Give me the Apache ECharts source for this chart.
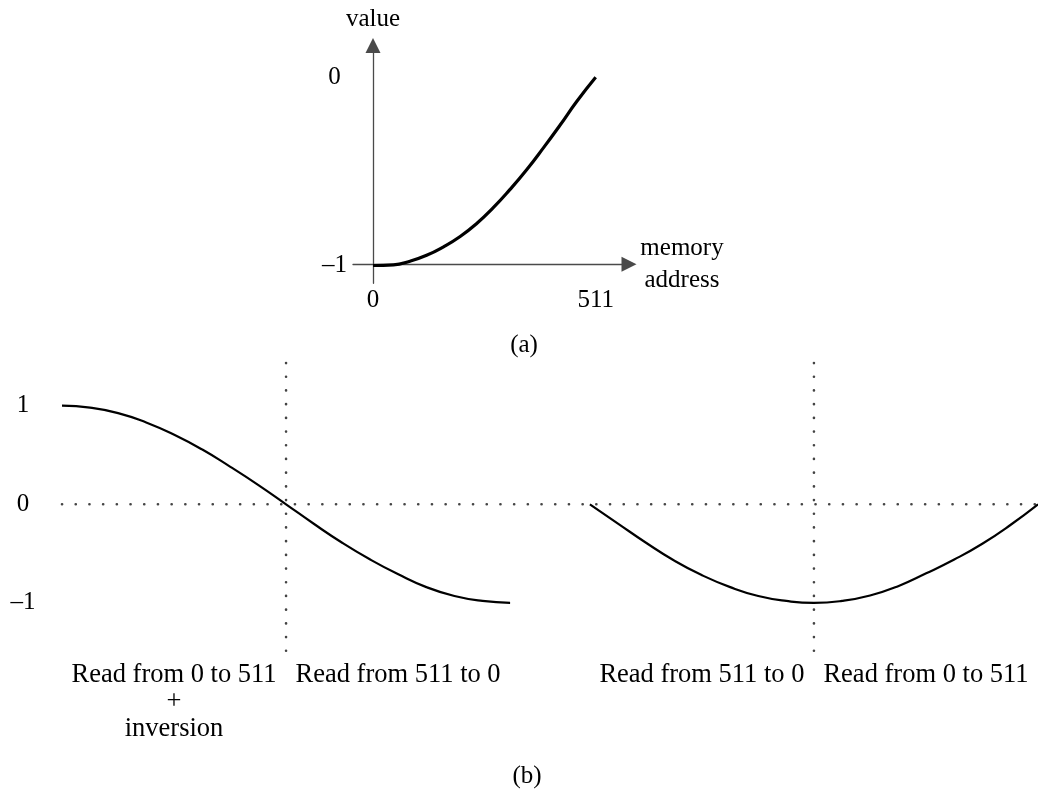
<!DOCTYPE html>
<html>
<head>
<meta charset="utf-8">
<script src="https://cdn.jsdelivr.net/npm/echarts@6/dist/echarts.min.js"></script>
<style>
html,body{margin:0;padding:0;background:#fff;}
#chart{width:1038px;height:794px;}
</style>
</head>
<body>
<div id="chart"></div>
<script>
// ---- (a) memory content: address vs value ----
const topAddr  = [0, 47, 85, 123, 161, 200, 238, 276, 314, 353, 391, 429, 467, 511];
const topValue = [-1.0, -0.997, -0.977, -0.946, -0.902, -0.846, -0.777, -0.693, -0.597, -0.49, -0.375, -0.255, -0.13, 0];
const topXTicks = [0, 511];
const topYTicks = [-1, 0];

// ---- (b) reconstructed waveform ----
const leftX  = [0, 64, 128, 192, 256, 320, 384, 448, 511, 575, 639, 703, 767, 831, 895, 959, 1022];
const leftY  = [1.0, 0.98, 0.925, 0.83, 0.705, 0.555, 0.38, 0.195, 0, -0.20, -0.39, -0.56, -0.71, -0.84, -0.93, -0.98, -1.0];
const rightX = [1204, 1268, 1332, 1396, 1460, 1524, 1588, 1652, 1715, 1779, 1843, 1907, 1971, 2035, 2099, 2163, 2226];
const rightY = [0, -0.195, -0.39, -0.57, -0.72, -0.84, -0.93, -0.98, -1.0, -0.98, -0.925, -0.83, -0.70, -0.56, -0.40, -0.21, 0];
const bottomYTicks = [-1, 0, 1];
const dividerX = [511, 1715];
const segmentCenters = [255.5, 766.5, 1459.5, 1970.5];
const segmentLabels = ['Read from 0 to 511\n+\ninversion', 'Read from 511 to 0', 'Read from 511 to 0', 'Read from 0 to 511'];

const FONT = 'Liberation Serif, Times New Roman, serif';
const AXIS_COLOR = '#4a4a4a';
const DOT_COLOR = '#444';
const fmtNum = v => (v < 0 ? '\u2013' + Math.abs(v) : String(v));

const zip = (xs, ys) => xs.map((x, i) => [x, ys[i]]);

const chart = echarts.init(document.getElementById('chart'), null, {renderer: 'canvas'});

const dotted = {color: DOT_COLOR, width: 2.6, type: [0.1, 13.6], cap: 'round'};

const option = {
  backgroundColor: '#fff',
  animation: false,
  grid: [
    {left: 353, top: 45.5, width: 276, height: 237.8},
    {left: 62, top: 363, right: 0, height: 298}
  ],
  xAxis: [
    {
      gridIndex: 0, type: 'value', min: -45.9, max: 587.4,
      offset: -19,
      axisLine: {show: true, onZero: false, lineStyle: {color: AXIS_COLOR, width: 1.3},
                 symbol: ['none', 'triangle'], symbolSize: [15, 15]},
      axisTick: {show: false},
      splitLine: {show: false},
      axisLabel: {customValues: topXTicks, margin: 24, color: '#000', fontFamily: FONT, fontSize: 25,
                  formatter: fmtNum},
      name: 'memory\naddress', nameLocation: 'end', nameGap: 53,
      nameTextStyle: {color: '#000', fontFamily: FONT, fontSize: 25, lineHeight: 32, align: 'center', verticalAlign: 'middle'}
    },
    {
      gridIndex: 1, type: 'value', min: 0, max: 2226,
      axisLine: {show: false, onZero: false},
      axisTick: {show: false},
      splitLine: {show: false},
      axisLabel: {customValues: segmentCenters, margin: 1, color: '#000', fontFamily: FONT, fontSize: 26.5,
                  lineHeight: 27, align: 'center',
                  formatter: v => {
                    const i = segmentCenters.findIndex(c => Math.abs(c - v) < 1);
                    return i >= 0 ? segmentLabels[i] : '';
                  }}
    }
  ],
  yAxis: [
    {
      gridIndex: 0, type: 'value', min: -1.0946, max: 0.169,
      axisLine: {show: true, onZero: true, lineStyle: {color: AXIS_COLOR, width: 1.3},
                 symbol: ['none', 'triangle'], symbolSize: [15, 15]},
      axisTick: {show: false},
      splitLine: {show: false},
      axisLabel: {customValues: topYTicks, margin: 18.5, align: 'center', color: '#000', fontFamily: FONT, fontSize: 25,
                  formatter: fmtNum},
      name: 'value', nameLocation: 'end', nameGap: 14,
      nameTextStyle: {color: '#000', fontFamily: FONT, fontSize: 25, align: 'center'}
    },
    {
      gridIndex: 1, type: 'value', min: -1.589, max: 1.433,
      axisLine: {show: false},
      axisTick: {show: false},
      splitLine: {show: false},
      axisLabel: {customValues: bottomYTicks, margin: 39, align: 'center', color: '#000', fontFamily: FONT, fontSize: 25,
                  formatter: fmtNum}
    }
  ],
  series: [
    {
      type: 'line', xAxisIndex: 0, yAxisIndex: 0, data: zip(topAddr, topValue),
      smooth: 0.5, showSymbol: false, symbol: 'none', clip: false,
      lineStyle: {color: '#000', width: 3.2}
    },
    {
      type: 'line', xAxisIndex: 1, yAxisIndex: 1, data: [[0, 0], [2226, 0]],
      showSymbol: false, symbol: 'none', clip: false, z: 1, lineStyle: dotted
    },
    ...dividerX.map(x => ({
      type: 'line', xAxisIndex: 1, yAxisIndex: 1, data: [[x, 1.433], [x, -1.589]],
      showSymbol: false, symbol: 'none', clip: false, z: 1, lineStyle: dotted
    })),
    {
      type: 'line', xAxisIndex: 1, yAxisIndex: 1, data: zip(leftX, leftY),
      smooth: 0.5, showSymbol: false, symbol: 'none', clip: false, z: 3,
      lineStyle: {color: '#000', width: 2.2}
    },
    {
      type: 'line', xAxisIndex: 1, yAxisIndex: 1, data: zip(rightX, rightY),
      smooth: 0.5, showSymbol: false, symbol: 'none', clip: false, z: 3,
      lineStyle: {color: '#000', width: 2.2}
    }
  ],
  graphic: [
    {type: 'text', style: {text: '(a)', x: 524, y: 345, align: 'center', verticalAlign: 'middle',
      font: '25px ' + FONT, fill: '#000'}},
    {type: 'text', style: {text: '(b)', x: 527, y: 776, align: 'center', verticalAlign: 'middle',
      font: '25px ' + FONT, fill: '#000'}}
  ]
};
chart.setOption(option);
</script>
</body>
</html>
